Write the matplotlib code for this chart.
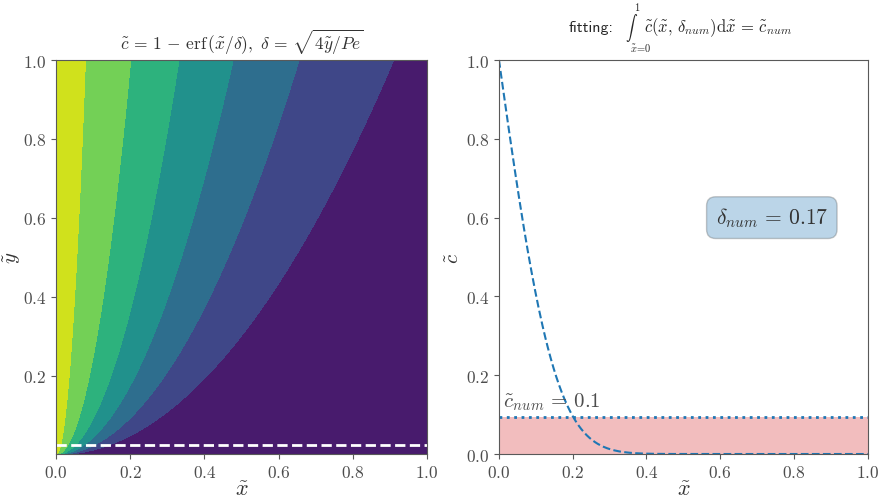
import numpy as np
import matplotlib
matplotlib.use("Agg")
import matplotlib.pyplot as plt
from math import erf

plt.rcParams["font.family"] = "serif"
plt.rcParams["font.serif"] = ["cmr10"]
plt.rcParams["mathtext.fontset"] = "cm"
plt.rcParams["axes.formatter.use_mathtext"] = True
plt.rcParams["axes.unicode_minus"] = False
plt.rcParams["xtick.labelsize"] = 12.5
plt.rcParams["ytick.labelsize"] = 12.5
plt.rcParams["xtick.labelcolor"] = "0.3"
plt.rcParams["ytick.labelcolor"] = "0.3"
plt.rcParams["xtick.color"] = "0.35"
plt.rcParams["ytick.color"] = "0.35"

# model parameters
Pe = 5.0
delta_num = 0.17
c_num = 0.095
y_line = 0.025
x_ticks = [0.0, 0.2, 0.4, 0.6, 0.8, 1.0]
y_ticks_left = [0.2, 0.4, 0.6, 0.8, 1.0]
y_ticks_right = [0.0, 0.2, 0.4, 0.6, 0.8, 1.0]

verf = np.vectorize(erf)

x = np.linspace(0.0, 1.0, 400)
y = np.linspace(0.002, 1.0, 400)
X, Y = np.meshgrid(x, y)
delta = np.sqrt(4.0 * Y / Pe)
C = 1.0 - verf(X / delta)

c_fit = 1.0 - verf(x / delta_num)

W, H = 880.0, 502.0
fig = plt.figure(figsize=(W / 100, H / 100), dpi=100)
ax1 = fig.add_axes([0.0636, 0.0936, 0.4216, 0.7848])
ax2 = fig.add_axes([0.567, 0.0936, 0.419, 0.7848])

ax1.contourf(X, Y, C, cmap="viridis")
ax1.axhline(y_line, color="white", ls="--", lw=2)
ax1.set_xlim(0, 1)
ax1.set_ylim(y[0], 1)
ax1.set_xticks(x_ticks)
ax1.set_yticks(y_ticks_left)
ax1.set_xlabel(r"$\tilde{x}$", fontsize=16, labelpad=0, color="0.2")
ax1.set_ylabel(r"$\tilde{y}$", fontsize=15, labelpad=0, color="0.2")
ax1.set_title(r"$\tilde{c}\,=\,1\,-\,\mathrm{erf}\,(\tilde{x}/\delta),\ \delta\,=\,\sqrt{4\tilde{y}/Pe}$",
              fontsize=12.5, pad=8, color="0.2")

ax2.fill_between([0, 1], 0, c_num, color="tab:red", alpha=0.3, lw=0)
ax2.plot(x, c_fit, ls="--", color="C0", lw=1.5)
ax2.axhline(c_num, ls=":", color="C0", lw=2)
ax2.text(0.01, c_num + 0.025, r"$\tilde{c}_{num}\,=\,%.1f$" % c_num, fontsize=15, color="0.3")
ax2.text(0.74, 0.6, r"$\delta_{num}\,=\,%.2f$" % delta_num, fontsize=15.5, ha="center", va="center",
         color="0.2",
         bbox=dict(boxstyle="round,pad=0.42", facecolor="C0", alpha=0.3, edgecolor="0.3"))
ax2.set_xlim(0, 1)
ax2.set_ylim(0, 1)
ax2.set_xticks(x_ticks)
ax2.set_yticks(y_ticks_right)
ax2.set_xlabel(r"$\tilde{x}$", fontsize=16, labelpad=0, color="0.2")
ax2.set_ylabel(r"$\tilde{c}$", fontsize=15, labelpad=2, color="0.2")

# title of the fitting panel: sans prefix, integral sign with its limits, integrand
ty = 1 - 28 / H
fig.text(613 / W, ty, "fitting:", fontfamily="cmss10", fontsize=11.5, ha="right", va="center",
         color="0.15")
fig.text(632 / W, ty, r"$\int$", fontsize=8.5, ha="center", va="center", color="0.15")
fig.text(637 / W, 1 - 7 / H, r"$1$", fontsize=7.5, ha="center", va="center", color="0.15")
fig.text(641 / W, 1 - 48 / H, r"$\tilde{x}\!=\!0$", fontsize=7.5, ha="center", va="center",
         color="0.15")
fig.text(644 / W, ty,
         r"$\tilde{c}(\tilde{x},\, \delta_{num})\mathrm{d}\tilde{x}\,=\,\tilde{c}_{num}$",
         fontsize=12, ha="left", va="center", color="0.15")

for ax in (ax1, ax2):
    for s in ax.spines.values():
        s.set_color("0.35")

fig.savefig("out.png", dpi=100)
